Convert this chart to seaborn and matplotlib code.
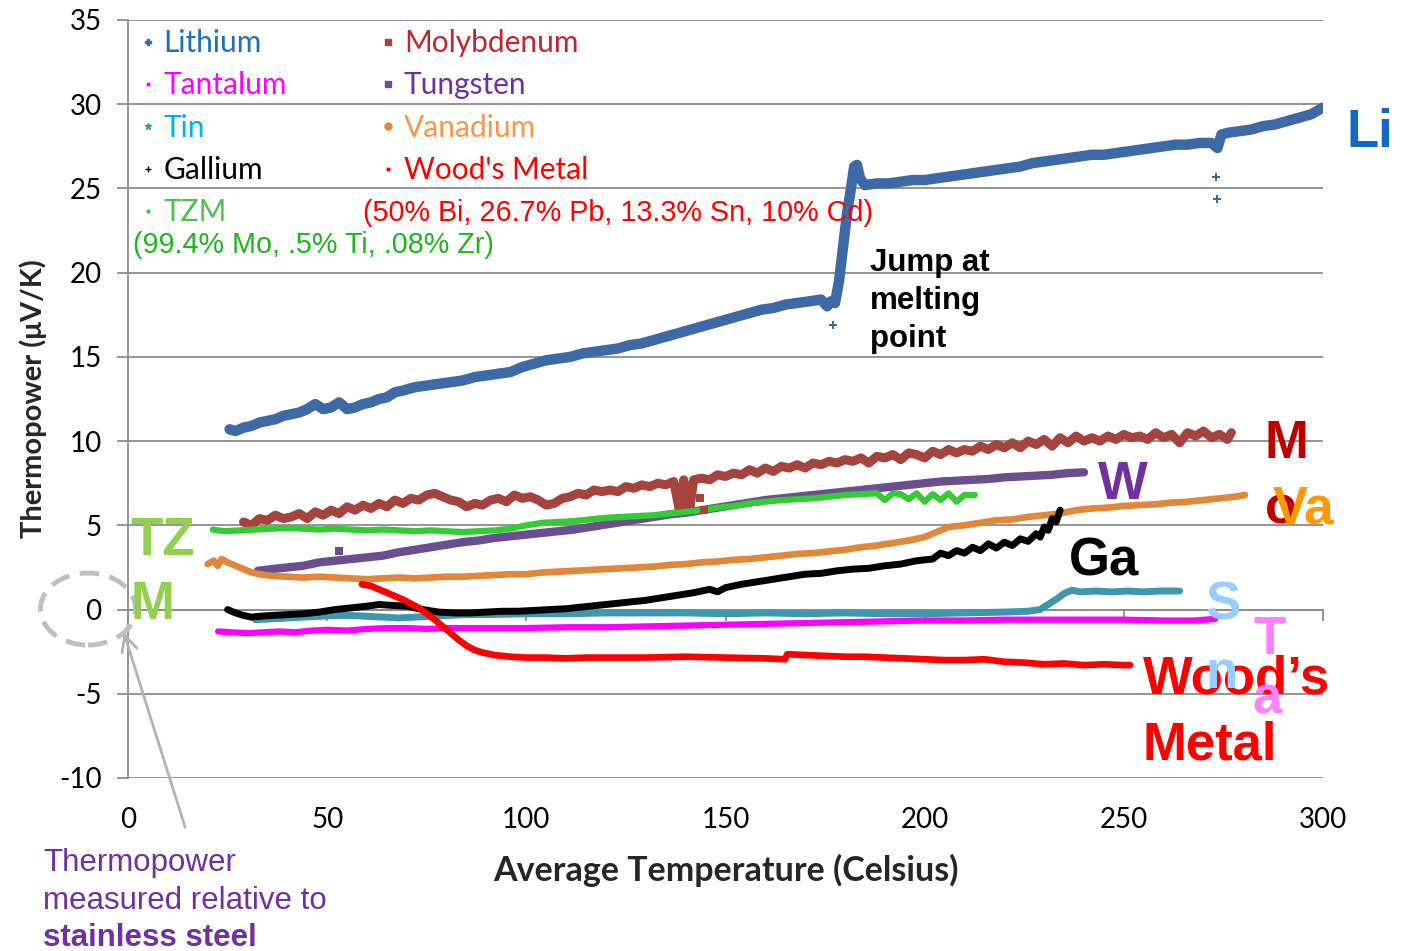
import numpy as np
import pandas as pd
import matplotlib
matplotlib.use("Agg")
import matplotlib.pyplot as plt
from matplotlib.lines import Line2D
from matplotlib.patches import Ellipse, FancyArrowPatch
import seaborn as sns

# ---- measured thermopower (uV/K) vs. average temperature (C) ----
li_t = [25.5, 27, 29, 31, 33, 35, 37, 39, 41, 43, 45, 47, 49, 51, 53, 55, 57, 59, 61, 63, 65, 67, 69,
        72, 75, 78, 81, 84, 87, 90, 93, 96, 99, 102, 105, 108, 111, 114, 117, 120, 123, 126, 129, 132,
        135, 138, 141, 144, 147, 150, 153, 156, 159, 162, 165, 168, 171, 174, 175.5, 176.5, 177.5,
        178.5, 179.5, 180.5, 181.5, 182.3, 183, 183.8, 185, 188, 191, 194, 197, 200, 203, 206, 209,
        212, 215, 218, 221, 224, 227, 230, 233, 236, 239, 242, 245, 248, 251, 254, 257, 260, 263,
        266, 269, 272, 273.5, 274.5, 276, 279, 282, 285, 288, 291, 294, 297, 300]
li_v = [10.7, 10.6, 10.8, 10.9, 11.1, 11.2, 11.3, 11.5, 11.6, 11.7, 11.9, 12.2, 11.9, 12.0, 12.3,
        11.9, 12.0, 12.2, 12.3, 12.5, 12.6, 12.9, 13.0, 13.2, 13.3, 13.4, 13.5, 13.6, 13.8, 13.9,
        14.0, 14.1, 14.4, 14.6, 14.8, 14.9, 15.0, 15.2, 15.3, 15.4, 15.5, 15.7, 15.8, 16.0, 16.2,
        16.4, 16.6, 16.8, 17.0, 17.2, 17.4, 17.6, 17.8, 17.9, 18.1, 18.2, 18.3, 18.4, 18.0, 18.3,
        18.2, 19.5, 21.5, 23.5, 25.0, 26.3, 26.4, 25.6, 25.2, 25.3, 25.3, 25.4, 25.5, 25.5, 25.6,
        25.7, 25.8, 25.9, 26.0, 26.1, 26.2, 26.3, 26.5, 26.6, 26.7, 26.8, 26.9, 27.0, 27.0, 27.1,
        27.2, 27.3, 27.4, 27.5, 27.6, 27.6, 27.7, 27.7, 27.4, 28.2, 28.3, 28.4, 28.5, 28.7, 28.8,
        29.0, 29.2, 29.4, 29.8]
li_out_t = [177.0, 273.2, 273.3]
li_out_v = [16.9, 25.7, 24.4]

mo_t = [29, 31, 33, 35, 37, 39, 41, 43, 45, 47, 49, 51, 53, 55, 57, 59, 61, 63, 65, 67, 69, 71, 73,
        75, 77, 79, 81, 83, 85, 87, 89, 91, 93, 95, 97, 99, 101, 103, 105, 107, 109, 111, 113, 115,
        117, 119, 121, 123, 125, 127, 129, 131, 133, 135, 137, 138.5, 139.5, 141, 142, 144, 146,
        148, 150, 152, 154, 156, 158, 160, 162, 164, 166, 168, 170, 172, 174, 176, 178, 180, 182,
        184, 186, 188, 190, 192, 194, 196, 198, 200, 202, 204, 206, 208, 210, 212, 214, 216, 218,
        220, 222, 224, 226, 228, 230, 232, 234, 236, 238, 240, 242, 244, 246, 248, 250, 252, 254,
        256, 258, 260, 262, 264, 266, 268, 270, 272, 274, 276, 277]
mo_v = [5.2, 5.0, 5.4, 5.3, 5.6, 5.4, 5.5, 5.7, 5.4, 5.8, 5.6, 5.9, 5.7, 6.1, 5.9, 6.2, 6.0, 6.3,
        6.1, 6.5, 6.3, 6.6, 6.5, 6.8, 6.9, 6.7, 6.5, 6.4, 6.1, 6.3, 6.2, 6.5, 6.6, 6.4, 6.8, 6.6,
        6.7, 6.5, 6.2, 6.3, 6.6, 6.7, 6.9, 6.8, 7.1, 7.0, 7.1, 7.0, 7.3, 7.2, 7.4, 7.3, 7.5, 7.4,
        7.6, 5.8, 7.7, 5.9, 7.7, 7.8, 7.7, 8.0, 7.9, 8.1, 8.0, 8.3, 8.1, 8.4, 8.2, 8.5, 8.4, 8.6,
        8.4, 8.7, 8.6, 8.8, 8.7, 8.9, 8.8, 9.0, 8.7, 9.1, 9.0, 9.2, 8.9, 9.3, 9.2, 9.0, 9.4, 9.2,
        9.5, 9.3, 9.5, 9.4, 9.7, 9.5, 9.8, 9.6, 9.9, 9.6, 10.0, 9.8, 10.1, 9.7, 10.2, 9.9, 10.3,
        10.0, 10.2, 10.0, 10.3, 10.1, 10.4, 10.2, 10.3, 10.1, 10.5, 10.2, 10.4, 9.9, 10.5, 10.3,
        10.6, 10.2, 10.4, 10.1, 10.5]
mo_out_t = [143.5, 144.5]
mo_out_v = [6.6, 5.9]

w_t = [32.6, 36, 40, 44, 48, 52, 56, 60, 64, 68, 72, 76, 80, 84, 88, 92, 96, 100, 104, 108, 112,
       116, 120, 124, 128, 132, 136, 140, 144, 148, 152, 156, 160, 164, 168, 172, 176, 180, 184,
       188, 192, 196, 200, 204, 208, 212, 216, 220, 224, 228, 232, 236, 240]
w_v = [2.3, 2.4, 2.5, 2.6, 2.8, 2.9, 3.0, 3.1, 3.2, 3.4, 3.55, 3.7, 3.85, 4.0, 4.1, 4.25, 4.35,
       4.45, 4.55, 4.65, 4.75, 4.9, 5.05, 5.2, 5.35, 5.5, 5.65, 5.75, 5.9, 6.05, 6.2, 6.35, 6.5,
       6.6, 6.7, 6.8, 6.9, 7.0, 7.1, 7.2, 7.3, 7.4, 7.5, 7.6, 7.65, 7.7, 7.75, 7.85, 7.9, 7.95,
       8.0, 8.1, 8.15]
w_out_t = [53.0]
w_out_v = [3.5]

tzm_t = [21.3, 24, 28, 32, 36, 40, 44, 48, 52, 56, 60, 64, 68, 72, 76, 80, 84, 88, 92, 96, 100,
         104, 108, 112, 116, 120, 124, 128, 132, 136, 140, 144, 148, 152, 156, 160, 164, 168, 172,
         176, 180, 184, 188, 190, 192, 194, 196, 198, 200, 202, 204, 206, 208, 210, 212.6]
tzm_v = [4.75, 4.65, 4.7, 4.75, 4.8, 4.85, 4.8, 4.75, 4.8, 4.75, 4.7, 4.75, 4.7, 4.65, 4.7, 4.65,
         4.6, 4.65, 4.7, 4.8, 5.0, 5.15, 5.2, 5.25, 5.35, 5.45, 5.5, 5.55, 5.6, 5.7, 5.8, 5.9,
         6.05, 6.15, 6.3, 6.4, 6.5, 6.55, 6.6, 6.7, 6.8, 6.85, 6.9, 6.5, 6.9, 6.85, 6.55, 6.9, 6.4,
         6.85, 6.5, 6.9, 6.4, 6.8, 6.8]

v_t = [20, 21.5, 22.5, 23.5, 25, 27, 29, 31, 33, 36, 40, 44, 48, 52, 56, 60, 64, 68, 72, 76, 80,
       84, 88, 92, 96, 100, 104, 108, 112, 116, 120, 124, 128, 132, 136, 140, 144, 148, 152, 156,
       160, 164, 168, 172, 176, 180, 184, 188, 192, 196, 200, 203, 206, 210, 214, 218, 222, 226,
       230, 234, 238, 242, 246, 250, 254, 258, 262, 266, 270, 274, 278, 280.4]
v_v = [2.7, 2.9, 2.6, 3.0, 2.8, 2.6, 2.4, 2.2, 2.1, 2.0, 1.95, 1.9, 1.95, 1.9, 1.85, 1.8, 1.85,
       1.9, 1.85, 1.9, 1.95, 1.95, 2.0, 2.05, 2.1, 2.1, 2.2, 2.25, 2.3, 2.35, 2.4, 2.45, 2.5,
       2.55, 2.65, 2.7, 2.8, 2.85, 2.95, 3.0, 3.1, 3.2, 3.3, 3.35, 3.45, 3.55, 3.7, 3.8, 3.95,
       4.1, 4.3, 4.6, 4.9, 5.0, 5.15, 5.3, 5.35, 5.5, 5.6, 5.7, 5.9, 6.0, 6.05, 6.15, 6.2, 6.25,
       6.35, 6.4, 6.5, 6.6, 6.7, 6.8]

ga_t = [25, 27, 29, 31, 33, 36, 40, 44, 48, 52, 56, 60, 63, 66, 70, 74, 78, 82, 86, 90, 94, 98,
        102, 106, 110, 114, 118, 122, 126, 130, 134, 138, 142, 146, 148, 150, 154, 158, 162, 166,
        170, 174, 178, 182, 186, 190, 194, 198, 202, 204, 206, 208, 210, 212, 214, 216, 218, 220,
        222, 224, 226, 228, 229, 230, 231, 232, 233, 234]
ga_v = [0.0, -0.2, -0.35, -0.45, -0.4, -0.35, -0.3, -0.25, -0.15, 0.0, 0.1, 0.2, 0.3, 0.25, 0.2,
        0.0, -0.15, -0.2, -0.2, -0.15, -0.1, -0.1, -0.05, 0.0, 0.05, 0.15, 0.25, 0.35, 0.45, 0.55,
        0.7, 0.85, 1.0, 1.2, 1.05, 1.3, 1.5, 1.65, 1.8, 1.95, 2.1, 2.15, 2.3, 2.4, 2.45, 2.6, 2.7,
        2.9, 3.0, 3.35, 3.2, 3.5, 3.35, 3.7, 3.5, 3.9, 3.65, 4.0, 3.8, 4.2, 4.05, 4.5, 4.3, 4.9,
        4.7, 5.4, 5.2, 5.9]

sn_t = [32, 36, 40, 44, 48, 52, 56, 60, 64, 68, 72, 76, 80, 85, 90, 100, 110, 120, 130, 140, 150,
        160, 170, 180, 190, 200, 210, 220, 226, 229, 231, 233, 235, 237, 239, 243, 247, 251, 255,
        259, 264]
sn_v = [-0.6, -0.55, -0.5, -0.45, -0.4, -0.35, -0.35, -0.4, -0.45, -0.5, -0.45, -0.4, -0.35,
        -0.3, -0.3, -0.25, -0.25, -0.2, -0.2, -0.2, -0.25, -0.2, -0.25, -0.2, -0.25, -0.25, -0.2,
        -0.15, -0.1, 0.0, 0.3, 0.6, 0.95, 1.15, 1.05, 1.1, 1.05, 1.1, 1.05, 1.1, 1.1]

ta_t = [22.6, 26, 30, 34, 38, 42, 46, 50, 55, 60, 65, 70, 75, 80, 90, 100, 110, 120, 130, 140,
        150, 160, 170, 180, 190, 200, 210, 220, 230, 240, 250, 260, 268, 273]
ta_v = [-1.3, -1.35, -1.4, -1.35, -1.3, -1.35, -1.25, -1.2, -1.25, -1.15, -1.1, -1.1, -1.15,
        -1.1, -1.1, -1.1, -1.05, -1.05, -1.0, -0.95, -0.9, -0.85, -0.8, -0.75, -0.7, -0.65,
        -0.65, -0.6, -0.6, -0.6, -0.6, -0.65, -0.65, -0.55]

wm_t = [58.7, 61, 63, 65, 67, 69, 71, 73, 75, 77, 79, 81, 83, 85, 87, 89, 92, 96, 100, 105, 110,
        115, 120, 130, 140, 150, 160, 165, 165.5, 170, 175, 180, 185, 190, 195, 200, 205, 210,
        215, 220, 225, 230, 235, 240, 245, 250, 251.6]
wm_v = [1.5, 1.4, 1.2, 1.0, 0.8, 0.6, 0.35, 0.1, -0.25, -0.6, -1.0, -1.4, -1.8, -2.15, -2.4,
        -2.55, -2.7, -2.8, -2.85, -2.85, -2.9, -2.85, -2.85, -2.85, -2.8, -2.85, -2.9, -2.95,
        -2.65, -2.7, -2.75, -2.8, -2.8, -2.85, -2.9, -2.95, -3.0, -3.0, -2.95, -3.1, -3.15,
        -3.25, -3.2, -3.3, -3.25, -3.3, -3.3]

# ---- styles per series: (name, T, V, line colour, width, legend marker, label colour) ----
series = [
    ("Lithium", li_t, li_v, "#3d69a6", 7.5, "P", "#1f6fc1"),
    ("Tantalum", ta_t, ta_v, "#ff00ff", 4.5, ".", "#ff00ff"),
    ("Tin", sn_t, sn_v, "#3f97ae", 5.0, "*", "#00b0f0"),
    ("Gallium", ga_t, ga_v, "#000000", 5.0, "+", "#000000"),
    ("TZM", tzm_t, tzm_v, "#33cc33", 4.5, ".", "#4cc44c"),
    ("Molybdenum", mo_t, mo_v, "#a5433f", 6.5, "s", "#c0262d"),
    ("Tungsten", w_t, w_v, "#6b4e8e", 6.0, "s", "#7030a0"),
    ("Vanadium", v_t, v_v, "#e0873a", 4.8, "o", "#f79646"),
    ("Wood's Metal", wm_t, wm_v, "#ff0000", 4.8, ".", "#ff0000"),
]
draw_order = ["Molybdenum", "Lithium", "Tungsten", "TZM", "Vanadium", "Tin", "Gallium",
              "Tantalum", "Wood's Metal"]

W_PX, H_PX = 1411, 951
sns.set_style("white")
plt.rcParams["font.family"] = ["Lato", "DejaVu Sans"]
plt.rcParams["axes.unicode_minus"] = False

fig = plt.figure(figsize=(W_PX / 100, H_PX / 100), dpi=100)
ax = fig.add_axes([128 / W_PX, 1 - 778 / H_PX, (1323 - 128) / W_PX, (778 - 20) / H_PX])

frames = {name: pd.DataFrame({"T": t, "V": v}) for name, t, v, *_ in series}
style = {s[0]: s for s in series}
for name in draw_order:
    _, t, v, col, lw, _, _ = style[name]
    sns.lineplot(data=frames[name], x="T", y="V", color=col, linewidth=lw, sort=False,
                 estimator=None, ax=ax, legend=False, solid_joinstyle="round")

# isolated readings away from the main traces
ax.scatter(li_out_t, li_out_v, marker="P", s=34, color="#3d69a6", zorder=3, linewidths=0)
ax.scatter(mo_out_t, mo_out_v, marker="s", s=26, color="#a5433f", zorder=3, linewidths=0)
ax.scatter(w_out_t, w_out_v, marker="s", s=40, color="#6b4e8e", zorder=3, linewidths=0)

# ---- axes ----
grid_c = "#8c8c8c"
ax.set_xlim(0, 300)
ax.set_ylim(-10, 35)
ax.set_yticks(np.arange(-10, 36, 5))
ax.set_xticks(np.arange(0, 301, 50))
ax.yaxis.grid(True, color=grid_c, linewidth=1.3)
ax.xaxis.grid(False)
ax.set_axisbelow(True)
for side in ["top", "right", "bottom"]:
    ax.spines[side].set_visible(False)
ax.spines["left"].set_color(grid_c)
ax.spines["left"].set_linewidth(1.3)
ax.tick_params(axis="y", direction="out", length=8, width=1.3, color=grid_c, pad=11,
               labelsize=20, labelcolor="#000000", left=True)
ax.tick_params(axis="x", length=0, pad=21, labelsize=20, labelcolor="#000000")

# horizontal axis line at zero with its tick marks
zero_ax = ax.secondary_xaxis(10 / 45)
zero_ax.set_xticks(np.arange(0, 301, 50))
zero_ax.tick_params(axis="x", direction="out", length=8, width=1.3, color=grid_c,
                    labelbottom=False, labeltop=False, bottom=True, top=False)
zero_ax.spines["bottom"].set_color(grid_c)
zero_ax.spines["bottom"].set_linewidth(1.3)
zero_ax.spines["top"].set_visible(False)

ax.set_xlabel("Average Temperature (Celsius)", fontsize=24.5, fontweight="bold")
ax.xaxis.set_label_coords(0.5, -0.100)
ax.set_ylabel("Thermopower (\u03bcV/K)", fontsize=21, fontweight="bold")
ax.yaxis.set_label_coords(-0.068, 0.5)

# ---- legend ----
handles = [Line2D([], [], linestyle="none", marker=s[5], color=s[3],
                  markersize=5 if s[5] != "." else 4) for s in series]
leg = ax.legend(handles, [s[0] for s in series], ncol=2, frameon=False,
                loc="upper left", bbox_to_anchor=(-0.0135, 1.0235), fontsize=21.5,
                handlelength=0.6, handletextpad=0.22, columnspacing=3.1, labelspacing=0.48)
for txt, s in zip(leg.get_texts(), series):
    txt.set_color(s[6])


def ftext(x, y, s, **kw):
    fig.text(x / W_PX, 1 - y / H_PX, s, va="baseline", **kw)


arial = ["Liberation Sans", "DejaVu Sans"]
ftext(363, 221, "(50% Bi, 26.7% Pb, 13.3% Sn, 10% Cd)", color="#ff0000", fontsize=20.7,
      family=arial)
ftext(133, 253, "(99.4% Mo, .5% Ti, .08% Zr)", color="#1fb51f", fontsize=20.7, family=arial)

for i, line in enumerate(["Jump at", "melting", "point"]):
    ftext(870, 271 + 38 * i, line, color="#000000", fontsize=22.5, fontweight="bold",
          family=arial)

# ---- series name tags ----
big = dict(fontsize=38, fontweight="bold", family=arial)
ftext(1346, 147, "Li", color="#1569c4", **big)
ftext(1265, 458, "M", color="#c00000", **big)
ftext(1265, 524, "o", color="#c00000", **big)
ftext(1273, 524, "Va", color="#ff9900", **big)
ftext(1098, 499, "W", color="#7030a0", **big)
ftext(1069, 576, "Ga", color="#000000", **big)
ftext(1143, 694, "Wood\u2019s", color="#ff0000", **big)
ftext(1143, 759, "Metal", color="#ff0000", **big)
ftext(1205, 619, "S", color="#99ccff", **big)
ftext(1205, 688, "n", color="#99ccff", **big)
ftext(1253, 654, "T", color="#ff80ff", **big)
ftext(1253, 713, "a", color="#ff80ff", **big)
ftext(130, 555, "TZ", color="#92d050", **big)
ftext(130, 619, "M", color="#92d050", **big)

# ---- reference-electrode note ----
ell = Ellipse((88 / W_PX, 1 - 609 / H_PX), 95 / W_PX, 72 / H_PX, transform=fig.transFigure,
              fill=False, edgecolor="#bfbfbf", linewidth=3.5, linestyle=(0, (4, 2.2)))
fig.add_artist(ell)
arrow = FancyArrowPatch((186 / W_PX, 1 - 830 / H_PX), (123 / W_PX, 1 - 630 / H_PX),
                        transform=fig.transFigure, arrowstyle="->", mutation_scale=28,
                        color="#b3b3b3", linewidth=2)
fig.add_artist(arrow)
ftext(43, 871, "Thermopower", color="#7030a0", fontsize=22.5, family=arial)
ftext(43, 909, "measured relative to", color="#7030a0", fontsize=22.5, family=arial)
ftext(43, 946, "stainless steel", color="#7030a0", fontsize=22.5, fontweight="bold",
      family=arial)

fig.savefig("out.png", dpi=100)
